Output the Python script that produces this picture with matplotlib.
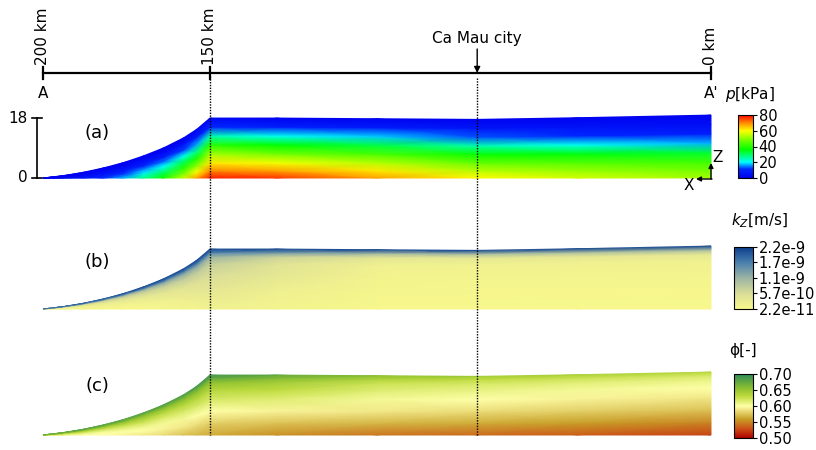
import numpy as np
import matplotlib
matplotlib.use("Agg")
from matplotlib import pyplot as plt
from matplotlib.colors import LinearSegmentedColormap, Normalize

# stations along the section A -> A' (km from A')
dist_km = [200, 194, 188, 182, 176, 170, 164, 158, 154, 150, 130, 100, 70, 40, 0]
# top of the model at each station (same vertical unit as the 0-18 scale)
top_elev = [0, 0.7, 1.7, 3.0, 4.6, 6.6, 9.0, 12.0, 14.6, 18.0, 18.0, 17.8, 17.6, 18.1, 18.9]
city_km = 70

# relative height levels (0 = bottom, 1 = top surface) of each field table
rel_p = [0, 0.12, 0.25, 0.4, 0.55, 0.7, 0.85, 1.0]
rel_kz = [0, 0.3, 0.55, 0.75, 0.87, 0.94, 1.0]
rel_phi = [0, 0.2, 0.4, 0.6, 0.75, 0.88, 0.95, 1.0]

# pressure p [kPa], one row per station, bottom -> top
p_kpa = [
    [1, 1, 1, 0, 0, 0, 0, 0],
    [4, 3, 2, 2, 1, 1, 0, 0],
    [7, 6, 5, 4, 3, 2, 1, 0],
    [11, 10, 8, 6, 4, 3, 1, 0],
    [17, 15, 12, 9, 6, 4, 2, 0],
    [27, 24, 19, 15, 10, 6, 3, 0],
    [38, 33, 27, 20, 14, 8, 3, 0],
    [55, 48, 40, 31, 21, 12, 5, 0],
    [68, 60, 50, 39, 28, 16, 7, 1],
    [78, 70, 62, 52, 40, 25, 11, 2],
    [76, 68, 59, 48, 36, 21, 9, 1],
    [68, 62, 54, 44, 32, 18, 8, 1],
    [60, 54, 47, 37, 25, 13, 6, 1],
    [56, 51, 45, 35, 21, 11, 5, 1],
    [52, 48, 43, 33, 17, 9, 4, 1],
]

# vertical conductivity k_z [1e-10 m/s], bottom -> top
kz_e10 = [
    [0.5, 1.0, 2.0, 5.0, 9, 14, 18],
    [0.5, 1.0, 2.0, 5.0, 9, 15, 19],
    [0.5, 1.0, 2.5, 5.5, 10, 15, 20],
    [0.5, 1.2, 2.5, 6.0, 10, 16, 20],
    [0.5, 1.2, 3.0, 6.5, 11, 16, 21],
    [0.5, 1.5, 3.5, 7.0, 11, 17, 21],
    [0.6, 2.0, 4.0, 7.5, 12, 17, 21],
    [0.8, 2.5, 4.5, 8.0, 12, 17, 21],
    [1.0, 3.0, 5.0, 8.0, 12, 17, 21],
    [1.5, 3.5, 5.5, 7.5, 11, 16, 21],
    [1.0, 2.0, 3.5, 4.5, 7, 14, 21],
    [0.5, 0.8, 1.2, 2.0, 4, 11, 21],
    [0.5, 0.6, 1.0, 1.5, 3.5, 10, 21],
    [0.5, 0.6, 1.0, 1.5, 3.5, 10, 21],
    [0.5, 0.6, 1.0, 1.5, 3.5, 10, 21],
]

# porosity phi [-], bottom -> top
phi = [
    [0.62, 0.62, 0.625, 0.63, 0.64, 0.65, 0.66, 0.67],
    [0.61, 0.61, 0.62, 0.63, 0.64, 0.655, 0.665, 0.675],
    [0.60, 0.605, 0.615, 0.63, 0.645, 0.66, 0.67, 0.68],
    [0.60, 0.60, 0.61, 0.625, 0.64, 0.66, 0.67, 0.68],
    [0.595, 0.60, 0.61, 0.625, 0.64, 0.66, 0.67, 0.68],
    [0.59, 0.60, 0.61, 0.625, 0.64, 0.655, 0.67, 0.68],
    [0.585, 0.595, 0.605, 0.62, 0.635, 0.655, 0.67, 0.685],
    [0.575, 0.59, 0.605, 0.62, 0.635, 0.655, 0.67, 0.685],
    [0.57, 0.585, 0.60, 0.62, 0.635, 0.655, 0.67, 0.69],
    [0.565, 0.58, 0.60, 0.62, 0.635, 0.655, 0.675, 0.69],
    [0.555, 0.575, 0.595, 0.615, 0.63, 0.645, 0.66, 0.675],
    [0.545, 0.57, 0.59, 0.605, 0.615, 0.625, 0.64, 0.655],
    [0.54, 0.565, 0.585, 0.60, 0.61, 0.62, 0.63, 0.645],
    [0.535, 0.56, 0.58, 0.595, 0.605, 0.615, 0.625, 0.64],
    [0.525, 0.55, 0.575, 0.59, 0.60, 0.61, 0.62, 0.635],
]

scale_km = [200, 150, 0]
scale_labels = ["200 km", "150 km", "0 km"]
height_ticks = [0, 18]
p_ticks = [0, 20, 40, 60, 80]
kz_ticks = [2.2e-11, 5.67e-10, 1.111e-9, 1.656e-9, 2.2e-9]
kz_labels = ["2.2e-11", "5.7e-10", "1.1e-9", "1.7e-9", "2.2e-9"]
phi_ticks = [0.50, 0.55, 0.60, 0.65, 0.70]

W, H = 816, 450
KM_LIM = (212.87, -31.44)   # 150 km -> 210 px, 0 km -> 711 px
UNIT = 3.33                 # px per vertical unit

cmap_p = LinearSegmentedColormap.from_list("p", [
    (0.0, "#0000f0"), (0.14, "#0028ff"), (0.25, "#00ffff"), (0.45, "#00ff00"),
    (0.58, "#60ff00"), (0.75, "#ffff00"), (0.87, "#ff9000"), (1.0, "#ff0000")])
cmap_kz = LinearSegmentedColormap.from_list("kz", [
    (0.0, "#f8f88c"), (0.25, "#dadd98"), (0.5, "#9bb3a2"), (0.75, "#4a7fae"),
    (1.0, "#0b3d8c")])
cmap_phi = LinearSegmentedColormap.from_list("phi", [
    (0.0, "#b00000"), (0.15, "#cc5018"), (0.3, "#c8a028"), (0.5, "#ffffa8"),
    (0.65, "#c0dc40"), (0.78, "#8cc030"), (1.0, "#2e8b57")])

plt.rcParams['font.family'] = ['DejaVu Sans']


def box(x0, y0, x1, y1):
    return [x0 / W, 1 - y1 / H, (x1 - x0) / W, (y1 - y0) / H]


fig = plt.figure(figsize=(W / 100, H / 100), dpi=100)

X = np.array(dist_km, dtype=float)
T = np.array(top_elev, dtype=float)


def draw_panel(bottom_px, rel, table, cmap, norm):
    ax = fig.add_axes(box(0, bottom_px - 90, W, bottom_px + 20))
    ax.set_xlim(*KM_LIM)
    ax.set_ylim(-20 / UNIT, 90 / UNIT)
    ax.axis("off")
    r = np.array(rel)[:, None]
    xx = np.repeat(X[None, :], len(rel), axis=0)
    zz = r * T[None, :]
    vv = np.array(table, dtype=float).T
    ax.pcolormesh(xx, zz, vv, shading="gouraud", cmap=cmap, norm=norm,
                  rasterized=True)
    return ax


norm_p = Normalize(0, 80)
norm_kz = Normalize(2.2e-11, 2.2e-9)
norm_phi = Normalize(0.5, 0.7)

ax_a = draw_panel(178, rel_p, p_kpa, cmap_p, norm_p)
draw_panel(309, rel_kz, np.array(kz_e10) * 1e-10, cmap_kz, norm_kz)
draw_panel(435, rel_phi, phi, cmap_phi, norm_phi)

# vertical scale next to (a)
ax_a.plot([201.8, 201.8], height_ticks, color="black", lw=1.2)
for v in height_ticks:
    ax_a.plot([203.2, 200.4], [v, v], color="black", lw=1.2)
    ax_a.text(204.5, v, str(v), ha="right", va="center", fontsize=11)

# overlay: distance scale, dotted guides, annotations
ov = fig.add_axes([0, 0, 1, 1])
ov.set_xlim(*KM_LIM)
ov.set_ylim(H, 0)
ov.axis("off")
ov.patch.set_alpha(0)

ov.plot([scale_km[0], scale_km[-1]], [73, 73], color="black", lw=1.6)
for km, lab in zip(scale_km, scale_labels):
    ov.plot([km, km], [67, 79], color="black", lw=1.6)
    ov.text(km, 65, lab, rotation=90, ha="center", va="bottom", fontsize=11)
ov.text(scale_km[0], 93, "A", ha="center", va="center", fontsize=11)
ov.text(scale_km[-1], 93, "A'", ha="center", va="center", fontsize=11)

ov.text(city_km, 38, "Ca Mau city", ha="center", va="center", fontsize=11)
ov.annotate("", xy=(city_km, 73), xytext=(city_km, 49),
            arrowprops=dict(arrowstyle="-|>", color="black", lw=1,
                            mutation_scale=9, shrinkA=0, shrinkB=0))

for km, y0 in ((150, 76), (city_km, 78)):
    ov.plot([km, km], [y0, 435], color="black", lw=1, ls=(0, (1, 1)))

for lab, y in (("(a)", 133), ("(b)", 262), ("(c)", 386)):
    fig.text(97 / W, 1 - y / H, lab, ha="center", va="center", fontsize=13)

# axis triad
arr = dict(arrowstyle="-|>", color="black", lw=1, mutation_scale=7,
           shrinkA=0, shrinkB=0)
ov.annotate("", xy=(711, H - 163), xytext=(711, H - 179),
            xycoords="figure pixels", textcoords="figure pixels", arrowprops=arr)
ov.annotate("", xy=(696, H - 179), xytext=(712, H - 179),
            xycoords="figure pixels", textcoords="figure pixels", arrowprops=arr)
fig.text(718 / W, 1 - 158 / H, "Z", ha="center", va="center", fontsize=11)
fig.text(689 / W, 1 - 186 / H, "X", ha="center", va="center", fontsize=11)


def draw_cbar(y0, y1, x0, cmap, norm, ticks, labels):
    cax = fig.add_axes(box(x0, y0, 753, y1))
    sm = plt.cm.ScalarMappable(norm=norm, cmap=cmap)
    cb = fig.colorbar(sm, cax=cax, ticks=ticks)
    cb.ax.set_yticklabels(labels)
    cb.ax.tick_params(labelsize=10.5, length=3, width=0.8, pad=1)
    cb.outline.set_linewidth(0.8)
    return cb


draw_cbar(115, 178, 738, cmap_p, norm_p, p_ticks, [str(t) for t in p_ticks])
draw_cbar(247, 309, 734, cmap_kz, norm_kz, kz_ticks, kz_labels)
draw_cbar(374, 438, 734, cmap_phi, norm_phi, phi_ticks,
          ["%.2f" % t for t in phi_ticks])

fig.text(750 / W, 1 - 94 / H, "$p$[kPa]", ha="center", va="center", fontsize=11)
fig.text(760 / W, 1 - 221 / H, "$k_Z$[m/s]", ha="center", va="center", fontsize=11)
fig.text(743 / W, 1 - 351 / H, "ϕ[-]", ha="center", va="center", fontsize=11)

fig.savefig("out.png", dpi=100)
